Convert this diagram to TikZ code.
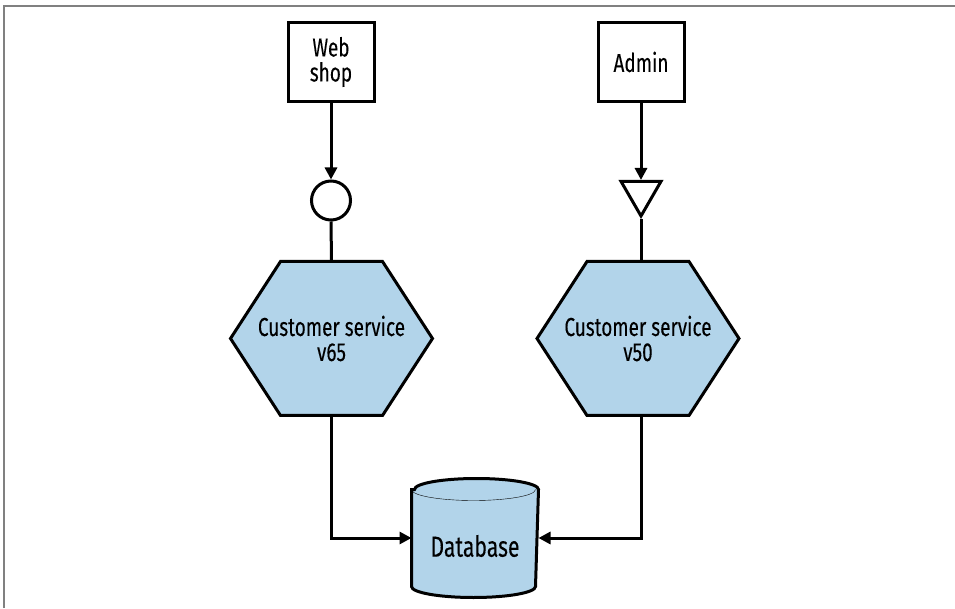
\documentclass[tikz,border=0pt]{standalone}
\usepackage{fontspec}
\setmainfont{Fira Sans}[FakeStretch=0.73,FakeBold=0.12]
\usetikzlibrary{arrows.meta,shapes.geometric,backgrounds}
\definecolor{hexblue}{RGB}{178,212,234}
\definecolor{framegray}{RGB}{128,128,128}
\begin{document}
\begin{tikzpicture}[x=1pt,y=1pt,
  line width=3pt,
  lbl/.style={font=\fontsize{26}{25}\selectfont, align=center},
  box/.style={draw, line width=3pt, minimum width=86pt, minimum height=79pt, inner sep=0pt, lbl},
  hexnode/.style={minimum width=199pt, minimum height=151pt, inner sep=0pt, lbl},
  dbnode/.style={minimum width=124pt, minimum height=116pt, inner sep=0pt},
  conn/.style={line width=3pt},
  arr/.style={conn, -{Triangle[length=12pt,width=12pt]}},
  port/.style={draw, fill=white, line width=3pt, inner sep=0pt},
  shapefill/.style={fill=hexblue, draw, line width=3pt, line join=miter}
]
\useasboundingbox (0,0) rectangle (955,608);
\draw[framegray, line width=2pt] (4,0) -- (4,602) -- (955,602);

\node[box] (web) at (331,546) {Web\\shop};
\node[box] (admin) at (641,546) {Admin};
\node[port, circle, minimum size=39pt] (circ) at (331,407.5) {};
\node[port, regular polygon, regular polygon sides=3, shape border rotate=180, minimum size=46pt] (tri) at (641,415) {};

\node[hexnode] (hex1) at (331.5,269.5) {Customer service\\v65};
\node[hexnode] (hex2) at (638,269.5) {Customer service\\v50};
\node[dbnode, label={[lbl, font=\fontsize{29}{29}\selectfont, yshift=-8pt]center:Database}] (db) at (475,70) {};

\begin{scope}[on background layer]
  \foreach \h in {hex1,hex2}
    \path[shapefill] (\h.west) -- ([xshift=50pt]\h.north west) -- ([xshift=-50pt]\h.north east) -- (\h.east) -- ([xshift=-50pt]\h.south east) -- ([xshift=50pt]\h.south west) -- cycle;
  \path[shapefill] ([yshift=-11pt]db.north west) -- ([yshift=11pt]db.south west)
    arc[start angle=180, end angle=360, x radius=62pt, y radius=11pt]
    -- ([yshift=-11pt]db.north east)
    arc[start angle=0, end angle=180, x radius=62pt, y radius=11pt] -- cycle;
  \draw ([yshift=-11pt]db.north west) arc[start angle=180, end angle=360, x radius=62pt, y radius=11pt];
\end{scope}

\draw[arr] (web.south) -- (circ.north);
\draw[conn] (circ.south) -- (hex1.north);
\draw[arr] (admin.south) -- (tri.north);
\draw[conn] (tri.south) -- (tri.south |- hex2.north);
\draw[arr] (hex1.south -| web.south) |- (db.west);
\draw[arr] (hex2.south -| admin.south) |- (db.east);
\end{tikzpicture}
\end{document}
